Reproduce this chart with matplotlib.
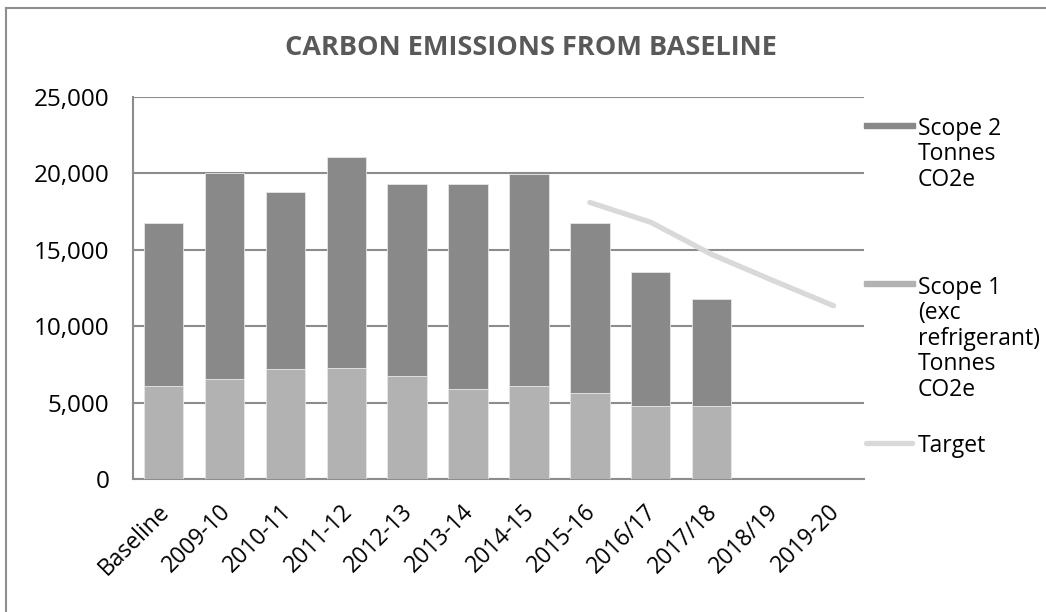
import matplotlib.pyplot as plt
from matplotlib.lines import Line2D
from matplotlib.patches import Rectangle
from matplotlib.transforms import ScaledTranslation
import numpy as np

# values (tonnes CO2e)
years = ['Baseline', '2009-10', '2010-11', '2011-12', '2012-13', '2013-14',
         '2014-15', '2015-16', '2016/17', '2017/18', '2018/19', '2019-20']
scope1 = [6100, 6550, 7200, 7280, 6720, 5900, 6090, 5630, 4780, 4780, np.nan, np.nan]
scope2_total = [16750, 20050, 18750, 21080, 19320, 19320, 19970, 16780, 13550, 11770, np.nan, np.nan]
target = [np.nan] * 7 + [18100, 16800, 14700, 13000, 11340]

scope2 = [t - s for t, s in zip(scope2_total, scope1)]

plt.rcParams['font.family'] = ['Open Sans', 'DejaVu Sans']

c_s2 = '#898989'
c_s1 = '#b2b2b2'
c_target = '#d9d9d9'
c_grid = '#8c8c8c'

fig = plt.figure(figsize=(10.46, 6.12), dpi=100)
ax = fig.add_axes([133 / 1046, 1 - 479 / 612, 731 / 1046, 382 / 612])

x = np.arange(len(years))
ax.bar(x, scope1, width=0.645, color=c_s1, edgecolor='#e6e6e6', linewidth=0.6, zorder=3)
ax.bar(x, scope2, width=0.645, bottom=scope1, color=c_s2, edgecolor='#e6e6e6', linewidth=0.6, zorder=3)
ax.plot(x, target, color=c_target, linewidth=3.8, solid_capstyle='round', zorder=4)

ax.set_xlim(-0.5, len(years) - 0.5)
ax.set_ylim(0, 25000)
ax.set_yticks(range(0, 25001, 5000))
ax.set_yticklabels([f'{v:,}' for v in range(0, 25001, 5000)])
ax.set_xticks(x)
ax.set_xticklabels(years, rotation=45, ha='right', va='top', rotation_mode='anchor')
ax.tick_params(axis='both', length=0, colors='black')
ax.tick_params(axis='x', labelsize=16.5, pad=15)
ax.tick_params(axis='y', labelsize=17.5, pad=17)
shift = ScaledTranslation(-6 / 100, 0, fig.dpi_scale_trans)
for lab in ax.get_xticklabels():
    lab.set_transform(lab.get_transform() + shift)

ax.grid(axis='y', color=c_grid, linewidth=1.5, zorder=0)
ax.set_axisbelow(True)
for side in ['top', 'right']:
    ax.spines[side].set_visible(False)
ax.spines['left'].set_color(c_grid)
ax.spines['bottom'].set_color(c_grid)
ax.spines['left'].set_linewidth(1.5)
ax.spines['bottom'].set_linewidth(1.5)

fig.text(531 / 1046, 1 - 48 / 612, 'CARBON EMISSIONS FROM BASELINE', ha='center', va='center',
         fontsize=19.5, fontweight='bold', color='#595959')

# legend on the right, patch next to the first line of each label
def fx(px):
    return px / 1046

def fy(py):
    return 1 - py / 612

fig.add_artist(Rectangle((fx(864), fy(128)), fx(51), 5.5 / 612, color=c_s2, transform=fig.transFigure))
fig.add_artist(Rectangle((fx(864), fy(286)), fx(51), 5.5 / 612, color=c_s1, transform=fig.transFigure))
fig.add_artist(Line2D([fx(866), fx(912)], [fy(443), fy(443)], color=c_target, linewidth=3.8,
                      solid_capstyle='round', transform=fig.transFigure))
leg_kw = dict(ha='left', va='top', fontsize=16.5, linespacing=1.08, color='black')
fig.text(fx(918), fy(117), 'Scope 2\nTonnes\nCO2e', **leg_kw)
fig.text(fx(918), fy(276), 'Scope 1\n(exc\nrefrigerant)\nTonnes\nCO2e', **leg_kw)
fig.text(fx(918), fy(434), 'Target', **leg_kw)

# outer chart border (only top and left are visible in the reference)
fig.add_artist(Line2D([fx(6), fx(1046)], [fy(7.5), fy(7.5)], color='#8f8f8f', linewidth=1.5,
                      transform=fig.transFigure))
fig.add_artist(Line2D([fx(6), fx(6)], [fy(7.5), 0], color='#8f8f8f', linewidth=1.5,
                      transform=fig.transFigure))

fig.savefig('out.png', dpi=100)
